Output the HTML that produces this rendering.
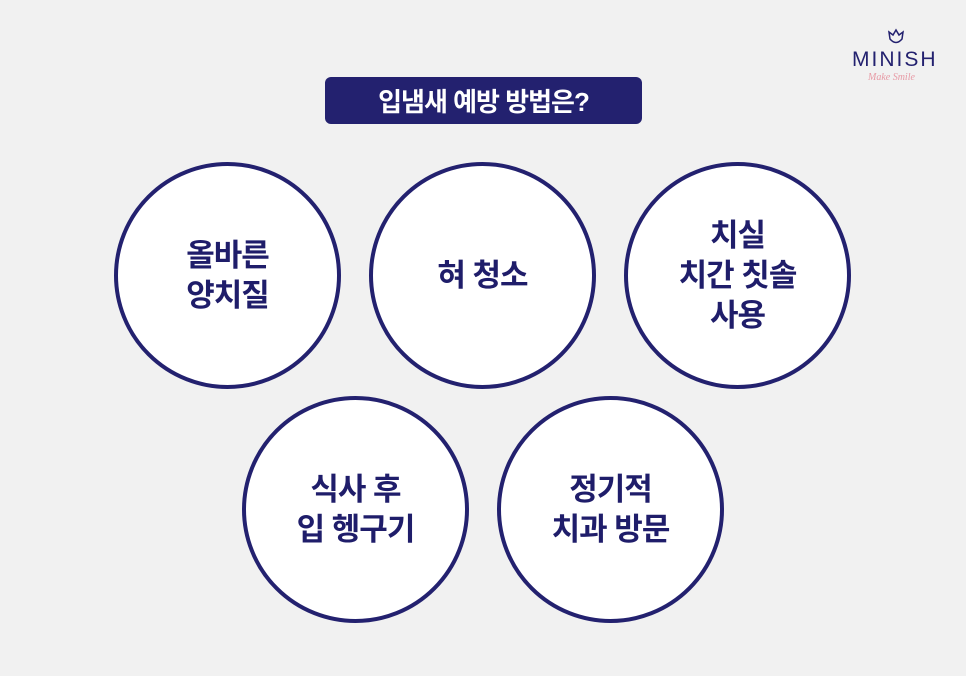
<!DOCTYPE html>
<html><head><meta charset="utf-8"><style>
body{margin:0;width:966px;height:676px;background:#f1f1f1;position:relative;overflow:hidden;font-family:"Liberation Sans","Noto Sans CJK KR",sans-serif}
.t{position:absolute;left:325px;top:77px;width:317px;height:47px;background:#23216f;border-radius:6px;color:#fff;font-weight:bold;font-size:26px;display:flex;align-items:center;justify-content:center;letter-spacing:-1px}
.c{position:absolute;width:219px;height:219px;border:4.5px solid #23216f;border-radius:50%;background:#fff;display:flex;align-items:center;justify-content:center;text-align:center;color:#1f1d6a;font-weight:bold;font-size:31px;line-height:40px;letter-spacing:-1px}
.logo{position:absolute;left:852px;top:48px;color:#23216f;font-size:21px;letter-spacing:2px}
.sub{position:absolute;left:868px;top:72px;color:#e79aa5;font-size:10px;font-style:italic;font-family:"Liberation Serif",serif}
</style></head><body>
<svg style="position:absolute;left:886px;top:27px" width="20" height="20" viewBox="0 0 20 20" fill="none" stroke="#23216f" stroke-width="1.5"><path d="M3 5 L7 8 L10 3 L13 8 L17 5 L16 12 Q10 19 4 12 Z"/></svg>
<div class="logo">MINISH</div><div class="sub">Make Smile</div>
<div class="t">입냄새 예방 방법은?</div>
<div class="c" style="left:114px;top:162px">올바른<br>양치질</div>
<div class="c" style="left:369px;top:162px">혀 청소</div>
<div class="c" style="left:624px;top:162px">치실<br>치간 칫솔<br>사용</div>
<div class="c" style="left:242px;top:396px">식사 후<br>입 헹구기</div>
<div class="c" style="left:497px;top:396px">정기적<br>치과 방문</div>
</body></html>
